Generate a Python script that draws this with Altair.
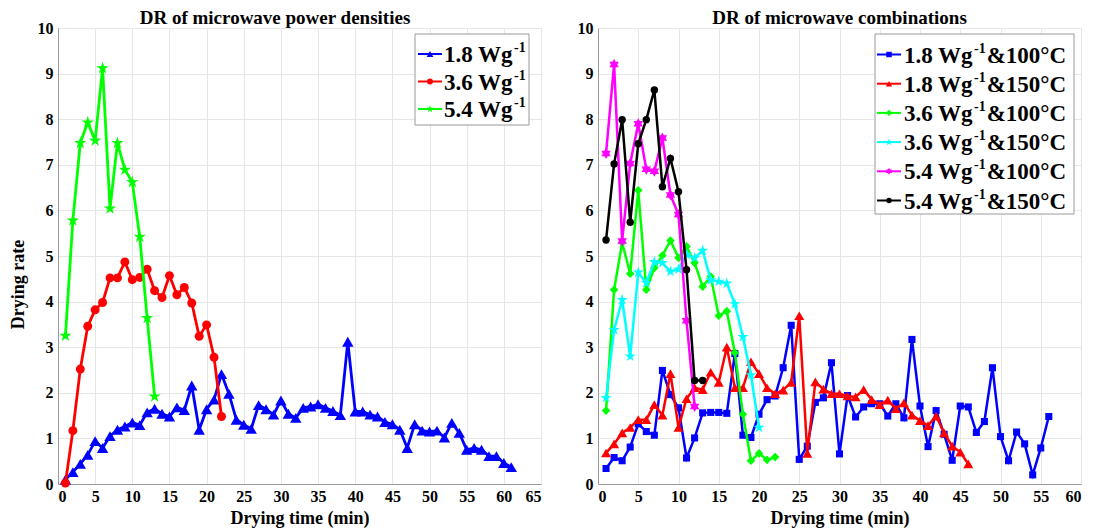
import altair as alt
import pandas as pd

FONT = "Liberation Serif"

# ---------------- data (left panel: power densities) ----------------
t_18 = list(range(1, 62))
dr_18 = [0.10, 0.26, 0.44, 0.64, 0.94, 0.79, 1.05, 1.19, 1.26, 1.35,
         1.29, 1.57, 1.65, 1.54, 1.48, 1.68, 1.62, 2.16, 1.19, 1.64,
         1.85, 2.41, 1.98, 1.41, 1.30, 1.21, 1.73, 1.64, 1.52, 1.83,
         1.54, 1.45, 1.67, 1.70, 1.75, 1.67, 1.60, 1.51, 3.12, 1.59,
         1.59, 1.52, 1.48, 1.36, 1.31, 1.19, 0.79, 1.31, 1.17, 1.15,
         1.17, 1.02, 1.34, 1.12, 0.75, 0.79, 0.75, 0.61, 0.61, 0.46, 0.37]
t_36 = list(range(1, 23))
dr_36 = [0.02, 1.17, 2.52, 3.46, 3.82, 3.98, 4.52, 4.52, 4.87, 4.48,
         4.53, 4.71, 4.24, 4.09, 4.57, 4.15, 4.31, 3.97, 3.24, 3.49, 2.78, 1.48]
t_54 = list(range(1, 14))
dr_54 = [3.25, 5.78, 7.48, 7.93, 7.53, 9.12, 6.04, 7.48, 6.89, 6.62, 5.42, 3.64, 1.92]

# ---------------- data (right panel: combinations) ----------------
t_18_100 = list(range(1, 57))
dr_18_100 = [0.34, 0.58, 0.51, 0.81, 1.32, 1.15, 1.07, 2.49, 1.96, 1.67,
             0.57, 1.01, 1.56, 1.57, 1.57, 1.55, 2.86, 1.07, 1.02, 1.53,
             1.85, 1.93, 2.55, 3.48, 0.54, 0.83, 1.79, 1.89, 2.66, 0.66,
             1.94, 1.47, 1.69, 1.76, 1.76, 1.49, 1.76, 1.45, 3.17, 1.71,
             0.82, 1.61, 1.09, 0.52, 1.71, 1.69, 1.13, 1.37, 2.55, 1.04,
             0.51, 1.14, 0.88, 0.20, 0.79, 1.48]
t_18_150 = list(range(1, 47))
dr_18_150 = [0.68, 0.88, 1.12, 1.24, 1.41, 1.41, 1.74, 1.51, 2.42, 1.24,
             1.87, 2.11, 2.07, 2.45, 2.23, 3.00, 2.11, 2.11, 2.68, 2.42,
             2.11, 1.98, 2.06, 2.23, 3.69, 0.67, 2.24, 2.08, 1.98, 1.98,
             1.93, 1.91, 2.07, 1.85, 1.74, 1.84, 1.65, 1.78, 1.51, 1.39,
             1.28, 1.49, 1.12, 0.83, 0.70, 0.44]
t_36_100 = list(range(1, 23))
dr_36_100 = [1.61, 4.26, 5.29, 4.61, 6.44, 4.26, 4.74, 5.01, 5.34, 4.96,
             5.21, 4.85, 4.33, 4.55, 3.69, 3.79, 2.88, 1.53, 0.51, 0.67, 0.53, 0.59]
t_36_150 = list(range(1, 21))
dr_36_150 = [1.89, 3.38, 4.04, 2.80, 4.64, 4.41, 4.87, 4.85, 4.66, 4.71,
             5.03, 4.96, 5.12, 4.47, 4.44, 4.40, 3.95, 3.23, 2.39, 1.24]
t_54_100 = list(range(1, 13))
dr_54_100 = [7.25, 9.20, 5.33, 7.03, 7.90, 6.90, 6.86, 7.59, 6.34, 5.91, 3.58, 1.70]
t_54_150 = list(range(1, 14))
dr_54_150 = [5.35, 7.02, 7.99, 5.74, 7.46, 7.99, 8.64, 6.52, 7.14, 6.41, 4.70, 2.27, 2.27]

left_titles = ["1.8 Wg", "3.6 Wg", "5.4 Wg"]
right_titles = [("1.8 Wg", "&100°C"), ("1.8 Wg", "&150°C"), ("3.6 Wg", "&100°C"),
                ("3.6 Wg", "&150°C"), ("5.4 Wg", "&100°C"), ("5.4 Wg", "&150°C")]

STAR5 = ("M0,-1L0.223,-0.307L0.951,-0.309L0.361,0.117L0.588,0.809L0,0.38"
         "L-0.588,0.809L-0.361,0.117L-0.951,-0.309L-0.223,-0.307Z")
HEX6 = ("M0,-1L0.289,-0.5L0.866,-0.5L0.577,0L0.866,0.5L0.289,0.5L0,1"
        "L-0.289,0.5L-0.866,0.5L-0.577,0L-0.866,-0.5L-0.289,-0.5Z")

W, H = 483, 456
LEG_FS = 23
SUP_FS = 14


def xy(xmax, ytitle):
    x = alt.X("t:Q", scale=alt.Scale(domain=[0, xmax], nice=False, zero=True),
              axis=alt.Axis(values=list(range(0, xmax + 1, 5)), title="Drying time (min)",
                            grid=True))
    if ytitle:
        y = alt.Y("dr:Q", scale=alt.Scale(domain=[0, 10], nice=False),
                  axis=alt.Axis(values=list(range(0, 11)), title=ytitle, grid=True,
                                titleY=256))
    else:
        y = alt.Y("dr:Q", scale=alt.Scale(domain=[0, 10], nice=False),
                  axis=alt.Axis(values=list(range(0, 11)), grid=True), title=None)
    return x, y


def series(ts, vals, color, shape, size, xmax, ytitle, sw=2.5):
    df = pd.DataFrame({"t": ts, "dr": vals})
    x, y = xy(xmax, ytitle)
    base = alt.Chart(df)
    line = base.mark_line(color=color, strokeWidth=sw).encode(x=x, y=y)
    pts = base.mark_point(shape=shape, filled=True, color=color, size=size,
                          opacity=1).encode(x=x, y=y)
    return [line, pts]


def legend(box, line_x, mark_x, text_x, row_y0, row_dy, entries):
    one = alt.Data(values=[{"k": 1}])
    out = [alt.Chart(one).mark_rect(fill="white", stroke="#9a9a9a", strokeWidth=1).encode(
        x=alt.value(box[0]), x2=alt.value(box[1]), y=alt.value(box[2]), y2=alt.value(box[3]))]
    for i, (color, shape, size, pre, suf) in enumerate(entries):
        yy = row_y0 + i * row_dy
        out.append(alt.Chart(one).mark_rule(color=color, strokeWidth=2).encode(
            x=alt.value(line_x[0]), x2=alt.value(line_x[1]), y=alt.value(yy)))
        out.append(alt.Chart(one).mark_point(shape=shape, filled=True, color=color,
                                             size=size, opacity=1).encode(
            x=alt.value(mark_x), y=alt.value(yy)))
        txt = dict(align="left", baseline="middle", font=FONT, fontWeight="bold", color="black")
        out.append(alt.Chart(one).mark_text(fontSize=LEG_FS, **txt).encode(
            x=alt.value(text_x), y=alt.value(yy + 1), text=alt.value(pre)))
        sx = text_x + 3.0 * LEG_FS + 1
        out.append(alt.Chart(one).mark_text(fontSize=SUP_FS, **txt).encode(
            x=alt.value(sx), y=alt.value(yy - 6), text=alt.value("-1")))
        if suf:
            fx = sx + 0.833 * SUP_FS + 1
            out.append(alt.Chart(one).mark_text(fontSize=LEG_FS, **txt).encode(
                x=alt.value(fx), y=alt.value(yy + 1), text=alt.value(suf)))
    return out


left_layers = []
left_layers += series(t_18, dr_18, "#0000ff", "triangle-up", 130, 65, "Drying rate", 2.8)
left_layers += series(t_36, dr_36, "#ff0000", "circle", 80, 65, "Drying rate", 2.8)
left_layers += series(t_54, dr_54, "#00ff00", STAR5, 170, 65, "Drying rate", 2.8)
left_layers += legend((357, 471, 6, 97), (360, 384), 372, 386, 26, 27.5, [
    ("#0000ff", "triangle-up", 45, left_titles[0], ""),
    ("#ff0000", "circle", 35, left_titles[1], ""),
    ("#00ff00", STAR5, 60, left_titles[2], ""),
])

left = alt.layer(*left_layers).properties(
    width=W, height=H,
    title=alt.TitleParams("DR of microwave power densities", font=FONT, fontWeight="bold",
                          fontSize=19, color="black", anchor="middle", frame="bounds", offset=-8))

right_layers = []
right_layers += series(t_18_100, dr_18_100, "#0000ff", "square", 50, 60, None)
right_layers += series(t_18_150, dr_18_150, "#ff0000", "triangle-up", 100, 60, None)
right_layers += series(t_36_100, dr_36_100, "#00ff00", "diamond", 75, 60, None)
right_layers += series(t_36_150, dr_36_150, "#00ffff", STAR5, 140, 60, None)
right_layers += series(t_54_100, dr_54_100, "#ff00ff", HEX6, 120, 60, None)
right_layers += series(t_54_150, dr_54_150, "#000000", "circle", 55, 60, None)
right_layers += legend((277, 476, 6, 186), (279, 303), 291, 306, 26.5, 29.2, [
    ("#0000ff", "square", 30, right_titles[0][0], right_titles[0][1]),
    ("#ff0000", "triangle-up", 40, right_titles[1][0], right_titles[1][1]),
    ("#00ff00", "diamond", 40, right_titles[2][0], right_titles[2][1]),
    ("#00ffff", STAR5, 60, right_titles[3][0], right_titles[3][1]),
    ("#ff00ff", HEX6, 50, right_titles[4][0], right_titles[4][1]),
    ("#000000", "circle", 30, right_titles[5][0], right_titles[5][1]),
])

right = alt.layer(*right_layers).properties(
    width=W, height=H,
    title=alt.TitleParams("DR of microwave combinations", font=FONT, fontWeight="bold",
                          fontSize=19, color="black", anchor="middle", frame="group", offset=-8))

chart = alt.hconcat(left, right, spacing=34).properties(
    padding={"left": 0, "top": 0, "right": 0, "bottom": 0}
).configure_axis(
    labelFont=FONT, labelFontWeight="bold", labelFontSize=16, labelColor="black",
    titleFont=FONT, titleFontWeight="bold", titleFontSize=18, titleColor="black",
    domainColor="#9a9a9a", domainWidth=1, gridColor="#e6e6e6", gridWidth=1,
    ticks=False, labelPadding=4, titlePadding=5
).configure_axisY(
    labelPadding=5, titlePadding=10
).configure_view(stroke="transparent")

chart.save("out.html", embed_options={"renderer": "svg", "actions": False})
